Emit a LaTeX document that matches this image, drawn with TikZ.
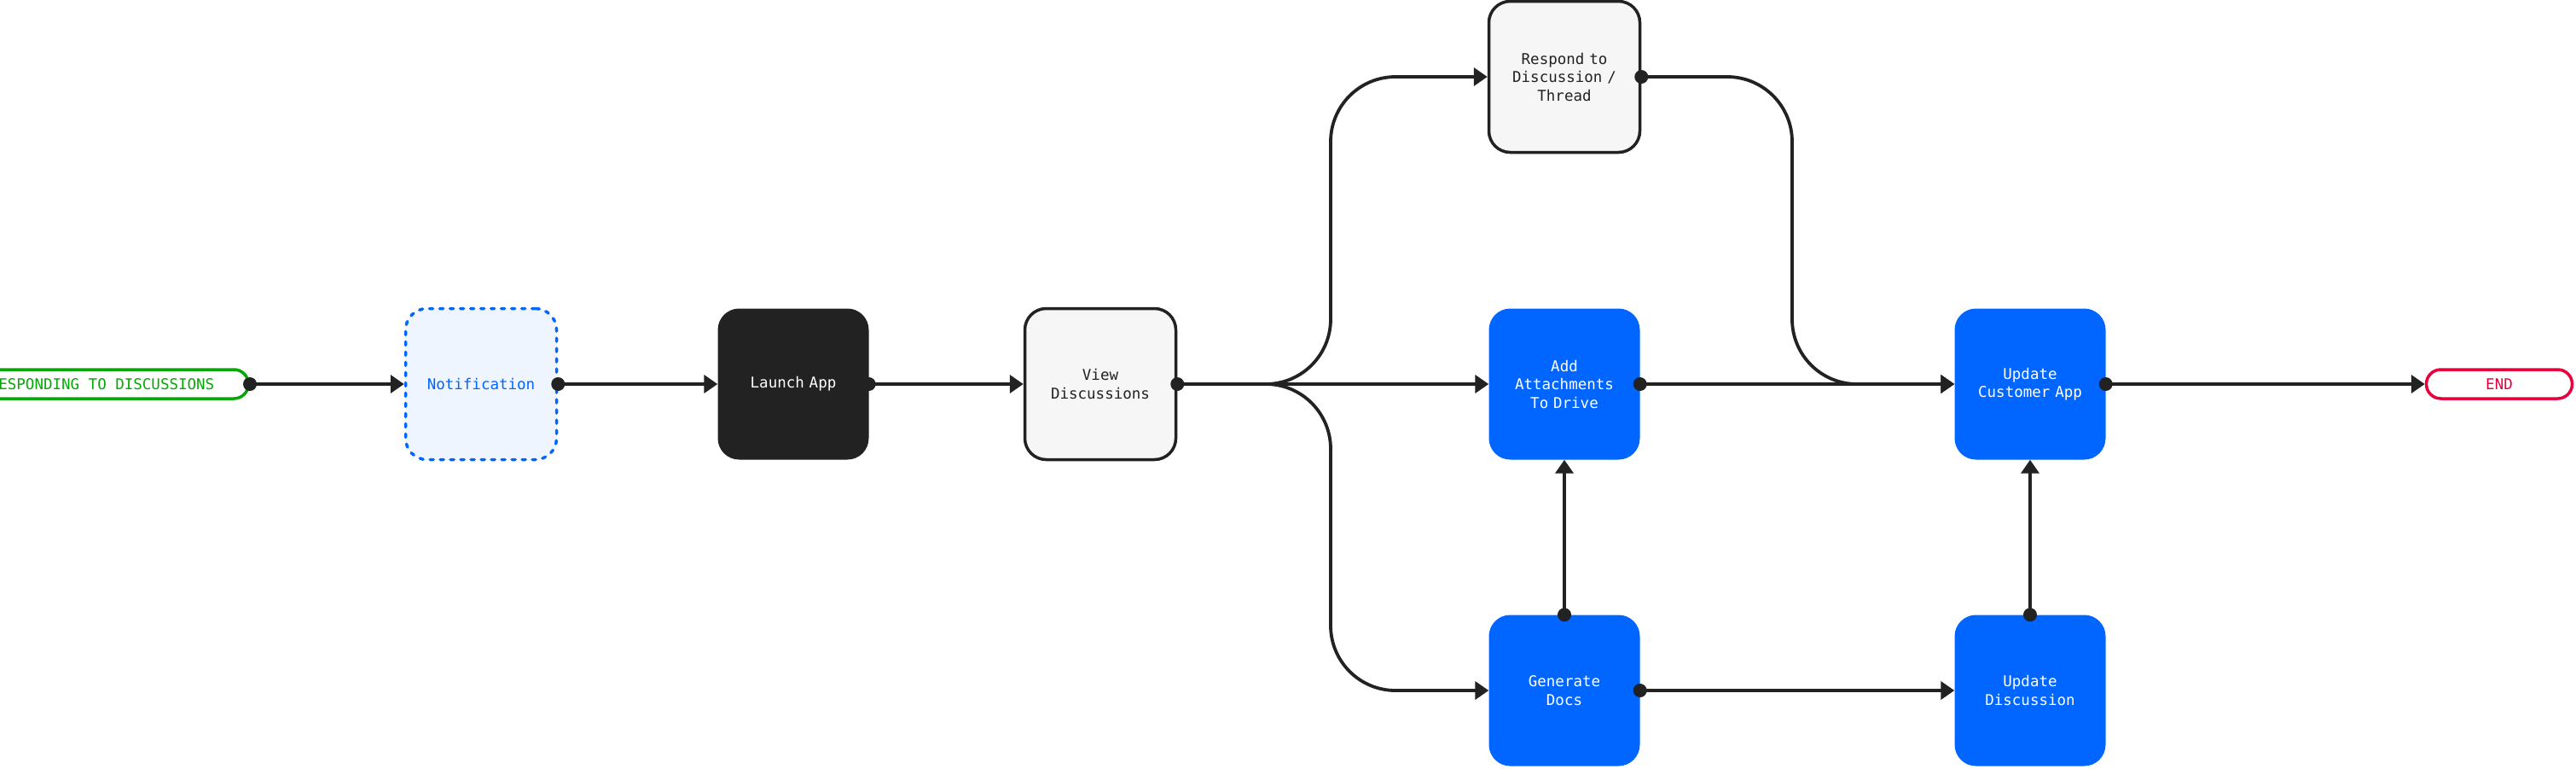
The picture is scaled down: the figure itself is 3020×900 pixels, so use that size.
\documentclass[tikz,border=0pt]{standalone}
\usepackage{fontspec}
\setmonofont{DejaVu Sans Mono}
\usetikzlibrary{arrows.meta}
\definecolor{ink}{HTML}{222222}
\definecolor{blu}{HTML}{0066FF}
\definecolor{notefill}{HTML}{EFF5FF}
\definecolor{greyfill}{HTML}{F6F6F6}
\definecolor{grn}{HTML}{05A805}
\definecolor{rd}{HTML}{E8003D}
\begin{document}
\begin{tikzpicture}[x=1pt,y=-1pt,
  txt/.style={font=\ttfamily\fontsize{17.5}{21.5}\selectfont},
  box/.style={txt, rounded corners=25pt, minimum width=177pt, minimum height=177pt,
    align=center, inner sep=0pt, text width=170pt},
  greybox/.style={box, fill=greyfill, draw=ink, line width=3.5pt, text=ink},
  bluebox/.style={box, fill=blu, text=white},
  darkbox/.style={box, fill=ink, text=white},
  notebox/.style={box, fill=notefill, draw=blu, text=blu, line width=3.5pt,
    line cap=round, dash pattern=on 4pt off 8pt},
  pill/.style={txt, rounded corners=17pt, minimum height=34pt, inner ysep=0pt,
    line width=3.5pt, fill=white},
  conn/.style={draw=ink, line width=3.8pt, -{Triangle[length=16pt,width=21pt]}},
  curved/.style={conn, rounded corners=76pt},
  dotc/.style={fill=ink}
]
\useasboundingbox (0,0) rectangle (3020,900);
\clip (0,0) rectangle (3020,900);

% nodes
\node[pill, draw=grn, text=grn, anchor=east, inner xsep=40pt] (start) at (293,450) {RESPONDING TO DISCUSSIONS};
\node[notebox] (note) at (564,450) {Notification};
\node[darkbox] (launch) at (930,450) {Launch App};
\node[greybox] (view) at (1290,450) {View\\Discussions};
\node[greybox] (resp) at (1834,90) {Respond to\\Discussion /\\Thread};
\node[bluebox] (add) at (1834,450) {Add\\Attachments\\To Drive};
\node[bluebox] (gen) at (1834,809) {Generate\\Docs};
\node[bluebox] (uca) at (2380,450) {Update\\Customer App};
\node[bluebox] (ud) at (2380,809) {Update\\Discussion};
\node[pill, draw=rd, text=rd, minimum width=171pt] (end) at (2930,450) {END};

% junction coordinates
\coordinate (splitA) at (1560,450);
\coordinate (splitUp) at (1560,90);
\coordinate (splitDown) at (1560,809);
\coordinate (joinUp) at (2101,90);
\coordinate (joinDown) at (2101,450);

% connectors
\draw[conn] (start.east) -- (note.west);
\draw[conn] (note.east) -- (launch.west);
\draw[conn] (launch.east) -- (view.west);
\draw[curved] (view.east) -- (splitA) -- (splitUp) -- (resp.west);
\draw[conn] (view.east) -- (add.west);
\draw[curved] (view.east) -- (splitA) -- (splitDown) -- (gen.west);
\draw[curved] (resp.east) -- (joinUp) -- (joinDown) -- (uca.west);
\draw[conn] (add.east) -- (uca.west);
\draw[conn] (gen.north) -- (add.south);
\draw[conn] (gen.east) -- (ud.west);
\draw[conn] (ud.north) -- (uca.south);
\draw[conn] (uca.east) -- (end.west);

% start dots
\foreach \p in {start.east, note.east, launch.east, view.east, resp.east, add.east, gen.north, gen.east, ud.north, uca.east}
  \fill[dotc] (\p) circle (8pt);
\end{tikzpicture}
\end{document}
